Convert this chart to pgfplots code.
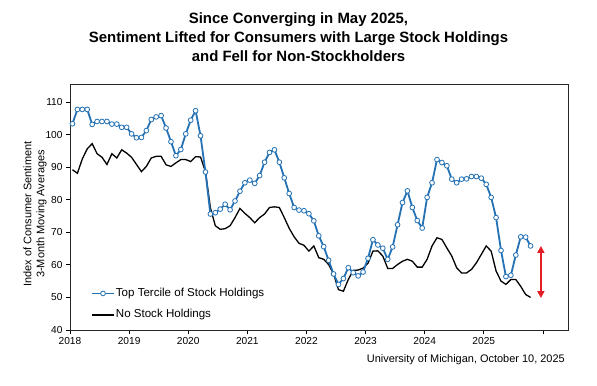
\documentclass[border=0pt]{standalone}
\usepackage{pgfplots}
\pgfplotsset{compat=1.18}
\usepackage{pgfplotstable}
\usepackage{fontspec}
\setmainfont{Liberation Sans}
\usetikzlibrary{arrows.meta}
\definecolor{tblue}{RGB}{36,113,180}
\definecolor{ared}{RGB}{228,28,36}

\pgfplotstableread{
m top none
0 103.3 89.2
1 107.7 88.1
2 107.7 92.5
3 107.7 95.6
4 103.1 97.2
5 104.0 94.1
6 104.0 93.0
7 104.0 90.8
8 103.2 94.1
9 103.2 92.8
10 102.2 95.3
11 102.2 94.3
12 100.2 93.0
13 99.0 90.8
14 99.1 88.6
15 101.2 90.2
16 104.6 92.8
17 105.4 93.3
18 105.8 93.3
19 102.0 90.7
20 97.8 90.2
21 93.5 91.3
22 95.4 92.3
23 100.2 92.3
24 104.4 91.7
25 107.3 93.2
26 99.6 93.1
27 88.5 88.6
28 75.6 77.5
29 76.0 72.0
30 77.1 70.9
31 78.6 71.1
32 76.9 72.0
33 79.6 74.5
34 82.6 77.3
35 85.2 75.8
36 86.0 74.5
37 85.0 72.9
38 87.4 74.5
39 91.5 75.6
40 94.5 77.6
41 95.3 77.8
42 91.5 77.6
43 86.7 74.5
44 81.9 71.2
45 77.6 68.6
46 76.8 66.6
47 76.6 66.0
48 75.7 64.2
49 73.5 65.8
50 68.9 62.2
51 65.6 61.7
52 61.4 60.1
53 57.2 57.2
54 54.0 52.4
55 55.8 51.9
56 59.1 55.5
57 57.6 58.3
58 56.6 58.4
59 57.8 59.0
60 62.0 60.5
61 67.7 64.2
62 66.1 64.3
63 65.1 62.7
64 61.7 58.9
65 65.5 58.9
66 72.3 60.1
67 79.1 61.1
68 82.7 61.7
69 77.6 61.1
70 73.6 59.3
71 71.3 59.3
72 80.7 61.7
73 85.2 65.8
74 92.3 68.3
75 91.4 67.8
76 90.4 65.2
77 86.3 62.7
78 85.2 59.1
79 86.3 57.5
80 86.4 57.5
81 87.1 58.6
82 87.1 60.6
83 86.6 63.2
84 84.7 65.8
85 80.7 64.2
86 74.5 58.1
87 64.4 55.0
88 56.4 54.0
89 56.8 55.5
90 63.0 55.5
91 68.6 53.4
92 68.5 50.9
93 65.8 50.0
}\data

\begin{document}
\begin{tikzpicture}
\begin{axis}[
  at={(70bp,56bp)}, anchor=south west,
  scale only axis, width=498bp, height=246bp,
  xmin=-0.5, xmax=100.6, ymin=40, ymax=115.5,
  xtick={-0.5,11.5,23.5,35.5,47.5,59.5,71.5,83.5,95.5},
  xticklabels={2018,2019,2020,2021,2022,2023,2024,2025,},
  ytick={40,50,60,70,80,90,100,110},
  xtick pos=bottom, ytick pos=left,
  tick align=outside, major tick length=4bp,
  tick style={black, line width=0.7bp},
  axis line style={black!85, line width=0.8bp},
  /pgf/number format/assume math mode=true,
  tick label style={font=\fontsize{10.2}{12}\selectfont},
  legend style={at={(0.042,0.105)}, anchor=west, draw=none, fill=none,
    font=\fontsize{11.6}{13}\selectfont, inner sep=0pt, row sep=9bp,
    nodes={inner sep=1bp, text height=8bp, text depth=2.5bp}},
  legend cell align=left,
  legend image code/.code={\draw[mark repeat=2,mark phase=2,#1] plot coordinates {(0bp,0bp) (11bp,0bp) (22bp,0bp)};},
]
\addplot[black, line width=1.3bp, forget plot] table[x=m, y=none] {\data};
\addplot[tblue, line width=1.8bp, mark=*, mark size=2.4bp,
  mark options={fill=white, draw=tblue, line width=0.8bp}] table[x=m, y=top] {\data};
\addlegendentry{Top Tercile of Stock Holdings}
\addlegendimage{black, line width=1.3bp}
\addlegendentry{No Stock Holdings}
\draw[ared, line width=2bp, {Triangle[length=7bp,width=7bp]}-{Triangle[length=7bp,width=7bp]}]
  (axis cs:95.1,65.8) -- (axis cs:95.1,49.8);
\end{axis}
\node[font=\fontsize{15}{19}\selectfont\bfseries, align=center] at (298.5bp,349bp)
  {Since Converging in May 2025,\\Sentiment Lifted for Consumers with Large Stock Holdings\\and Fell for Non-Stockholders};
\node[font=\fontsize{11}{13}\selectfont, align=center, rotate=90] at (35bp,172bp)
  {Index of Consumer Sentiment\\3-Month Moving Averages};
\node[font=\fontsize{11}{13}\selectfont, anchor=east, inner sep=0pt] at (565bp,26bp)
  {University of Michigan, October 10, 2025};
\pgfresetboundingbox
\useasboundingbox (0,0) rectangle (597bp,386bp);
\end{tikzpicture}
\end{document}
